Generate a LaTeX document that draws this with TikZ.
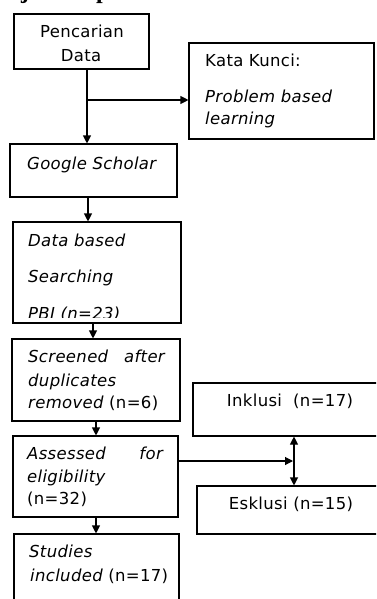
\documentclass[tikz,border=0pt]{standalone}
\usepackage{fontspec}
\setmainfont{DejaVu Sans}[LetterSpace=2]
\newfontfamily\headfont{Liberation Serif}
\usetikzlibrary{arrows.meta,fit}
\begin{document}
\begin{tikzpicture}[x=1pt,y=-1pt,
  box/.style={draw,line width=1.1pt,inner sep=0pt,rectangle},
  txt/.style={inner sep=0pt,text height=11.5pt,text depth=0pt,anchor=west,font=\fontsize{16.5}{19}\selectfont},
  itxt/.style={txt,font=\fontsize{16.5}{19}\selectfont\itshape},
  arr/.style={line width=1.1pt,-{Triangle[length=8pt,width=8pt]}},
  darr/.style={line width=1.1pt,{Triangle[length=8pt,width=8pt]}-{Triangle[length=8pt,width=8pt]}},
  head/.style={inner sep=0pt,anchor=base west,font=\headfont\bfseries\fontsize{24}{24}\selectfont}]
\useasboundingbox (0,0) rectangle (376,599);
\clip (0,0) rectangle (376,599);

% heading fragments (cut off at the top edge, as in the reference)
\node[head] (h1) at (21,-1) {j};
\node[head] (h2) at (96,-1) {p};

% boxes
\node[box,fit={(14,14) (149,69)}] (pd) {};
\node[box,fit={(189,43) (374,139)}] (kk) {};
\node[box,fit={(10,144) (177,197)}] (gs) {};
\node[box,fit={(13,222) (181,323)}] (db) {};
\node[box,fit={(12,339) (180,421)}] (sc) {};
\node[box,fit={(13,436) (178,517)}] (as) {};
\node[box,fit={(14,534) (179,612)}] (st) {};
\node[box,fit={(193,383) (382,436)}] (ink) {};
\node[box,fit={(197,486) (382,534)}] (esk) {};

% texts
\node[txt,anchor=center] (t1) at (82,32) {Pencarian};
\node[txt,anchor=center] (t2) at (81,56) {Data};
\node[txt] (t3) at (205,61) {Kata Kunci:};
\node[itxt] (t4) at (205,97) {Problem based};
\node[itxt] (t5) at (205,119) {learning};
\node[itxt] (t6) at (27,164) {Google Scholar};
\node[itxt] (t7) at (28,241) {Data based};
\node[itxt] (t8) at (28,277) {Searching};
\begin{scope}
  \clip (13,222) rectangle (181,317.5);
  \node[itxt] (t9) at (28,314) {PBI (n=23)};
\end{scope}
\node[itxt] (t10) at (28,357) {Screened};
\node[itxt,anchor=east] (t11) at (165,357) {after};
\node[itxt] (t12) at (28,381) {duplicates};
\node[txt] (t13) at (28,403) {\itshape removed\upshape\ (n=6)};
\node[itxt] (t14) at (27,454) {Assessed};
\node[itxt,anchor=east] (t15) at (163,454) {for};
\node[itxt] (t16) at (27,477) {eligibility};
\node[txt] (t17) at (27,499) {(n=32)};
\node[itxt] (t18) at (29,552) {Studies};
\node[txt] (t19) at (30,576) {\itshape included\upshape\ (n=17)};
\node[txt,anchor=center] (t20) at (290,401) {Inklusi \ (n=17)};
\node[txt,anchor=center] (t21) at (291,504) {Esklusi (n=15)};

% connectors
\coordinate (j1) at (87,100);
\draw[line width=1.1pt] (pd.south -| j1) -- (j1);
\draw[arr] (j1) -- (j1 |- gs.north);
\draw[arr] (j1) -- (j1 -| kk.west);
\coordinate (c2) at (88,0);
\draw[arr] (gs.south -| c2) -- (db.north -| c2);
\coordinate (c3) at (93,0);
\draw[arr] (db.south -| c3) -- (sc.north -| c3);
\coordinate (c4) at (96,0);
\draw[arr] (sc.south -| c4) -- (as.north -| c4);
\draw[arr] (as.south -| c4) -- (st.north -| c4);
\coordinate (m) at (294,461);
\draw[arr] (as.east |- m) -- ([xshift=-1pt]m);
\draw[darr] (ink.south -| m) -- (esk.north -| m);
\end{tikzpicture}
\end{document}
